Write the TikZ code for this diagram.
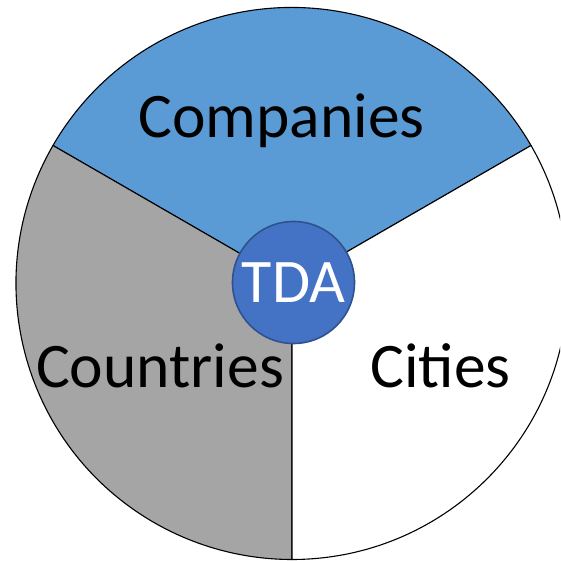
\documentclass[tikz,border=0pt]{standalone}
\usepackage{fontspec}
\setmainfont{Carlito}
\definecolor{compblue}{HTML}{5B9BD5}
\definecolor{countgray}{HTML}{A5A5A5}
\definecolor{tdafill}{HTML}{4472C4}
\definecolor{tdaedge}{HTML}{2F528F}
\begin{document}
\begin{tikzpicture}[x=1pt,y=1pt,
  sector/.style={draw=black,line width=1.1pt,line join=round},
  label/.style={anchor=base,inner sep=0pt,font=\fontsize{63.5}{70}\selectfont},
  hub/.style={circle,fill=tdafill,draw=tdaedge,line width=1.6pt,minimum size=122pt,inner sep=0pt},
  hubtext/.style={anchor=base,inner sep=0pt,text=white,font=\fontsize{62}{70}\selectfont}]
\useasboundingbox (0,0) rectangle (560,561);
\clip (0,0) rectangle (560,561);
\fill[white] (0,0) rectangle (560,561);
\coordinate (c) at (292,277.5);
\def\R{276}
\filldraw[sector,fill=compblue] (c) -- ++(30:\R) arc[start angle=30,end angle=150,radius=\R] -- cycle;
\filldraw[sector,fill=countgray] (c) -- ++(150:\R) arc[start angle=150,end angle=270,radius=\R] -- cycle;
\filldraw[sector,fill=white] (c) -- ++(270:\R) arc[start angle=270,end angle=390,radius=\R] -- cycle;
\node[label] (companies) at (281.5,423) {Companies};
\node[label] (countries) at (160,173) {Countries};
\node[label] (cities) at (440.5,173) {Cities};
\node[hub] (tda) at (293.5,278.5) {};
\node[hubtext] (tdatext) at (293.5,258) {TDA};
\end{tikzpicture}
\end{document}
